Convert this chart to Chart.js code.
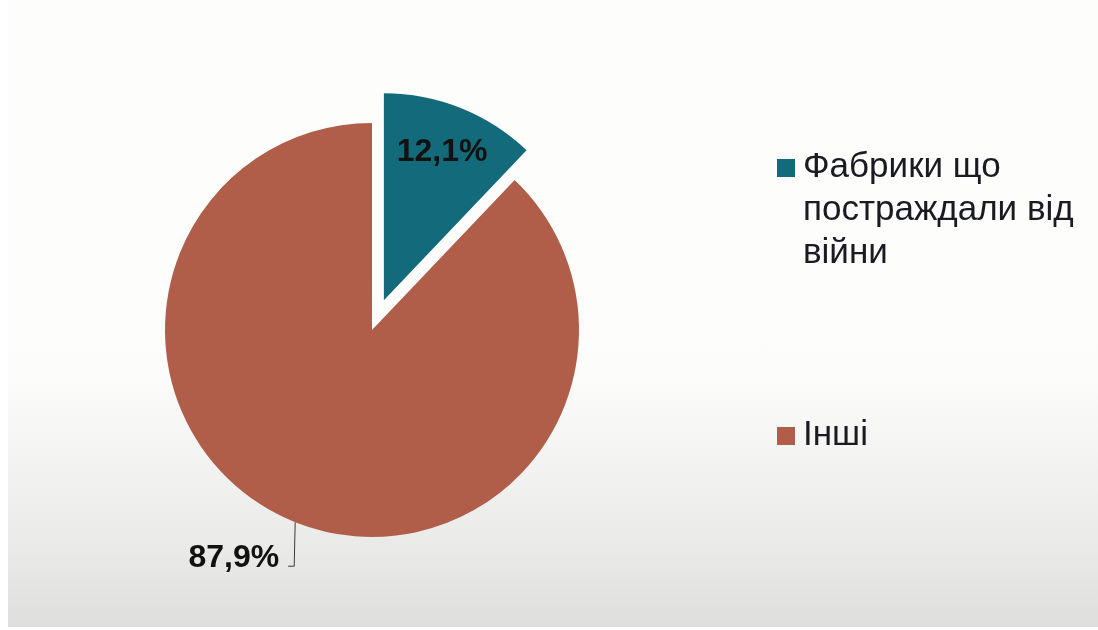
<!DOCTYPE html>
<html lang="uk">
<head>
<meta charset="utf-8">
<title>Частка фабрик</title>
<script src="https://cdn.jsdelivr.net/npm/chart.js@4/dist/chart.umd.min.js"></script>
<style>
  html, body { margin: 0; padding: 0; background: #ffffff; }
  body { width: 1098px; height: 630px; position: relative; overflow: hidden; }
  .slide {
    position: absolute; left: 8px; top: 0; right: 0; bottom: 3px;
    background: linear-gradient(to bottom, #fdfdfb 0%, #fcfcfa 60%, #e9e9e7 88%, #dededd 100%);
  }
  #chart { position: absolute; left: 0; top: 0; }
  .legend {
    position: absolute; left: 777px; top: 143px;
    font-family: "Liberation Sans", Arial, sans-serif; font-size: 35px; line-height: 43px;
    color: #191a22;
  }
  .legend .item { position: relative; padding-left: 26px; width: 295px; }
  .legend .item + .item { margin-top: 139px; }
  .legend .swatch { position: absolute; left: 0; top: 16px; width: 18px; height: 18px; }
</style>
</head>
<body>
<div class="slide"></div>
<canvas id="chart" width="1098" height="630"></canvas>
<div class="legend" id="legend"></div>
<script>
// shares, percent
const categories = ['Фабрики що постраждали від війни', 'Інші'];
const shares = [12.1, 87.9];
const sliceColors = ['#126a7a', '#b05e4a'];

const fmt = v => v.toFixed(1).replace('.', ',') + '%';

// pulls one slice out of the pie by translating it along its mid angle
const explodePlugin = {
  id: 'explode',
  beforeDatasetDraw(chart, args, opts) {
    const ctx = chart.ctx;
    args.meta.data.forEach((arc, i) => {
      const shift = i === opts.index ? opts.distance : 0;
      const mid = (arc.startAngle + arc.endAngle) / 2;
      ctx.save();
      ctx.translate(Math.cos(mid) * shift, Math.sin(mid) * shift);
      arc.draw(ctx);
      ctx.restore();
    });
    return false;
  }
};

// percentage labels: inside the exploded slice, outside with a leader for the other
const valueLabels = {
  id: 'valueLabels',
  afterDatasetsDraw(chart, args, opts) {
    const ctx = chart.ctx;
    const ex = chart.options.plugins.explode;
    const meta = chart.getDatasetMeta(0);
    ctx.save();
    ctx.font = 'bold 32px "Liberation Sans", Arial, sans-serif';
    ctx.fillStyle = '#111111';
    meta.data.forEach((arc, i) => {
      const mid = (arc.startAngle + arc.endAngle) / 2;
      const r = arc.outerRadius;
      const text = fmt(shares[i]);
      if (i === ex.index) {
        const d = ex.distance + r * 0.77;
        ctx.textAlign = 'center';
        ctx.textBaseline = 'middle';
        ctx.fillText(text, arc.x + Math.cos(mid) * d - 1, arc.y + Math.sin(mid) * d);
      } else {
        const x0 = arc.x + Math.cos(mid) * r;
        const y0 = arc.y + Math.sin(mid) * r;
        const y1 = y0 + 44;
        const x1 = x0 - 7;
        ctx.strokeStyle = '#3a3a3a';
        ctx.lineWidth = 1;
        ctx.beginPath();
        ctx.moveTo(x0, y0);
        ctx.lineTo(x0 - 1, y1);
        ctx.lineTo(x1, y1);
        ctx.stroke();
        ctx.textAlign = 'right';
        ctx.textBaseline = 'alphabetic';
        ctx.fillText(text, x1 - 9, y1 + 1);
      }
    });
    ctx.restore();
  }
};

new Chart(document.getElementById('chart'), {
  type: 'pie',
  data: {
    labels: categories,
    datasets: [{
      data: shares,
      backgroundColor: sliceColors,
      borderWidth: 0,
      hoverOffset: 0
    }]
  },
  options: {
    responsive: false,
    animation: false,
    radius: 207,
    layout: { padding: { left: 126, right: 480, top: 84, bottom: 54 } },
    plugins: {
      legend: { display: false },
      tooltip: { enabled: false },
      explode: { index: 0, distance: 32 }
    },
    events: []
  },
  plugins: [explodePlugin, valueLabels]
});

// legend on the right
const legendEl = document.getElementById('legend');
categories.forEach((name, i) => {
  const item = document.createElement('div');
  item.className = 'item';
  const sw = document.createElement('span');
  sw.className = 'swatch';
  sw.style.background = sliceColors[i];
  item.appendChild(sw);
  item.appendChild(document.createTextNode(name));
  legendEl.appendChild(item);
});
</script>
</body>
</html>
